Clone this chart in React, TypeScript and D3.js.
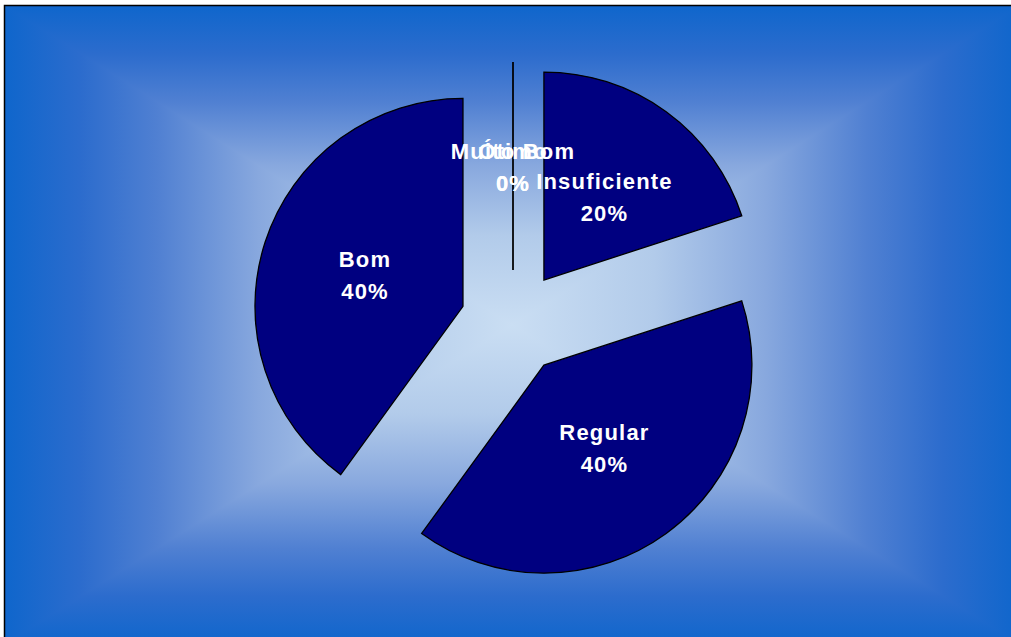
import React from "react";
import * as d3 from "d3";

const categories = ["Insuficiente", "Regular", "Bom", "Muito Bom", "Ótimo"];
const percents = [20, 40, 40, 0, 0];

const W = 1011;
const H = 637;
const frame = { x0: 5, y0: 6, x1: 1019, y1: 644 };
const gc = { x: 512, y: 325 };
const pieCenter = { x: 513, y: 322.6 };
const R = 208;
const EXPLODE = 52.6;
const LABEL_R = 103;

const stops = [
  { o: 0, c: "#0f66cc" },
  { o: 0.15, c: "#2c6ccd" },
  { o: 0.3, c: "#5080d2" },
  { o: 0.5, c: "#88a8de" },
  { o: 0.72, c: "#b2cbea" },
  { o: 1, c: "#cadef3" },
];

export default function App() {
  const pie = d3
    .pie<number>()
    .sort(null)
    .startAngle(0)
    .endAngle(2 * Math.PI)
    .value((d) => d);
  const arcs = pie(percents);
  const arc = d3.arc<d3.PieArcDatum<number>>().innerRadius(0).outerRadius(R);

  const tris = [
    { id: "gT", pts: [[frame.x0, frame.y0], [frame.x1, frame.y0], [gc.x, gc.y]], g: { x1: 0, y1: frame.y0, x2: 0, y2: gc.y } },
    { id: "gB", pts: [[frame.x0, frame.y1], [frame.x1, frame.y1], [gc.x, gc.y]], g: { x1: 0, y1: frame.y1, x2: 0, y2: gc.y } },
    { id: "gL", pts: [[frame.x0, frame.y0], [frame.x0, frame.y1], [gc.x, gc.y]], g: { x1: frame.x0, y1: 0, x2: gc.x, y2: 0 } },
    { id: "gR", pts: [[frame.x1, frame.y0], [frame.x1, frame.y1], [gc.x, gc.y]], g: { x1: frame.x1, y1: 0, x2: gc.x, y2: 0 } },
  ];

  return (
    <svg
      width={W}
      height={H}
      style={{ position: "absolute", left: 0, top: 0, display: "block" }}
    >
      <defs>
        {tris.map((t) => (
          <linearGradient
            key={t.id}
            id={t.id}
            gradientUnits="userSpaceOnUse"
            x1={t.g.x1}
            y1={t.g.y1}
            x2={t.g.x2}
            y2={t.g.y2}
          >
            {stops.map((s, i) => (
              <stop key={i} offset={s.o} stopColor={s.c} />
            ))}
          </linearGradient>
        ))}
      </defs>
      <rect x={0} y={0} width={W} height={H} fill="#ffffff" />
      {tris.map((t) => (
        <polygon
          key={t.id}
          points={t.pts.map((p) => p.join(",")).join(" ")}
          fill={`url(#${t.id})`}
          shapeRendering="crispEdges"
        />
      ))}
      <rect
        x={frame.x0 - 0.5}
        y={frame.y0 - 0.5}
        width={frame.x1 - frame.x0}
        height={frame.y1 - frame.y0}
        fill="none"
        stroke="#000"
        strokeWidth={1.5}
      />
      <g transform={`translate(${pieCenter.x},${pieCenter.y})`}>
        {arcs.map((a, i) => {
          const mid = (a.startAngle + a.endAngle) / 2;
          const dx = Math.sin(mid) * EXPLODE;
          const dy = -Math.cos(mid) * EXPLODE;
          return (
            <path
              key={categories[i]}
              d={arc(a) || ""}
              transform={`translate(${dx},${dy})`}
              fill="#000080"
              stroke="#000"
              strokeWidth={1.3}
              strokeLinejoin="miter"
            />
          );
        })}
        {arcs.map((a, i) => {
          const mid = (a.startAngle + a.endAngle) / 2;
          const rr = EXPLODE + LABEL_R;
          const lx = Math.sin(mid) * rr;
          const ly = -Math.cos(mid) * rr;
          return (
            <text
              key={"l" + categories[i]}
              x={lx}
              y={ly}
              textAnchor="middle"
              fill="#ffffff"
              fontFamily="Arial, 'Liberation Sans', sans-serif"
              fontWeight="bold"
              fontSize={22}
              letterSpacing={1.2}
            >
              <tspan x={lx} y={ly - 8}>
                {categories[i]}
              </tspan>
              <tspan x={lx} y={ly + 24}>
                {`${percents[i]}%`}
              </tspan>
            </text>
          );
        })}
      </g>
    </svg>
  );
}
